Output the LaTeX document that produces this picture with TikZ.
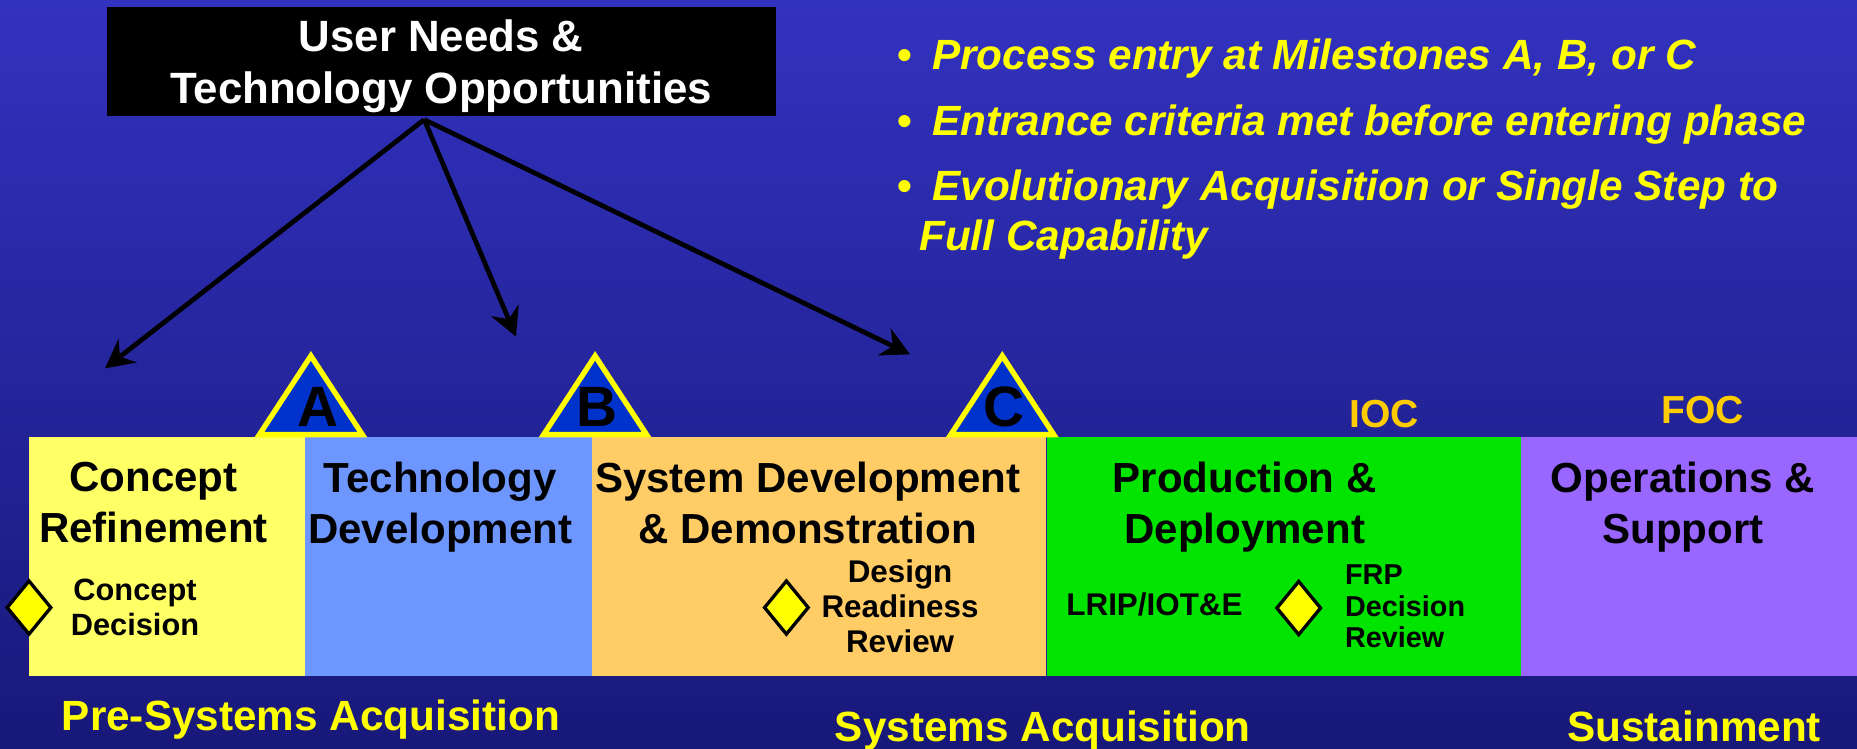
\documentclass[tikz,border=0pt]{standalone}
\usepackage{fontspec}
\setmainfont{Liberation Sans}
\usetikzlibrary{arrows.meta,shapes.geometric}
\definecolor{bgtop}{RGB}{50,50,192}
\definecolor{bgbot}{RGB}{24,24,122}
\definecolor{cYel}{RGB}{255,255,102}
\definecolor{cBlue}{RGB}{110,150,255}
\definecolor{cOra}{RGB}{255,204,102}
\definecolor{cGrn}{RGB}{0,228,0}
\definecolor{cPur}{RGB}{153,102,255}
\definecolor{msfill}{RGB}{0,51,204}
\definecolor{brightyel}{RGB}{255,255,0}
\definecolor{gold}{RGB}{255,204,0}
\definecolor{navyline}{RGB}{36,36,150}
\newcommand\setfs[2]{\fontsize{#1}{#2}\selectfont}
\begin{document}
\begin{tikzpicture}[x=1pt,y=-1pt,
  phase/.style={draw=none, inner sep=0, outer sep=0, anchor=north west, minimum height=202},
  phasetext/.style={anchor=north, align=center, inner sep=0, font=\setfs{35.5}{42.8}\bfseries},
  milestone/.style={fill=msfill, draw=brightyel, line width=4.5, line join=miter},
  msletter/.style={anchor=base, inner sep=0, font=\setfs{48}{48}\bfseries},
  decision/.style={diamond, draw=black, fill=brightyel, line width=2.8, minimum width=38, minimum height=46, inner sep=0},
  feed/.style={line width=4, -{Stealth[length=24pt, width=25pt, inset=8pt]}},
  ioc/.style={anchor=base, inner sep=0, text=gold, font=\setfs{33}{33}\bfseries},
  phasegroup/.style={anchor=base, inner sep=0, text=brightyel, font=\setfs{35.7}{35.7}\bfseries},
  bulltext/.style={anchor=base west, inner sep=0, text=brightyel, font=\setfs{35.7}{42.2}\bfseries\itshape},
  bulletdot/.style={anchor=base west, inner sep=0, text=brightyel, font=\setfs{35.7}{42.2}\bfseries}
]
\useasboundingbox (0,0) rectangle (1568,632);
\shade[top color=bgtop, bottom color=bgbot] (0,0) rectangle (1568,632);

% phase boxes
\node[phase, fill=cYel,  minimum width=233]   (cr) at (24.4,369) {};
\node[phase, fill=cBlue, minimum width=242.6] (td) at (257.4,369) {};
\node[phase, fill=cOra,  minimum width=383.8] (sd) at (500,369) {};
\node[phase, fill=cGrn,  minimum width=400.5] (pd) at (883.8,369) {};
\node[phase, fill=cPur,  minimum width=283.7] (os) at (1284.3,369) {};
\draw[line width=1, draw=navyline] (pd.north west) -- (pd.south west);

% milestone triangles
\draw[milestone] (219,367) -- (262.5,300.5) -- (306,367) -- cycle;
\draw[milestone] (459,367) -- (502.5,300.5) -- (546,367) -- cycle;
\draw[milestone] (802.8,367) -- (846.3,300.5) -- (889.8,367) -- cycle;
\node[msletter] (mA) at (268.5,360) {A};
\node[msletter] (mB) at (504,360) {B};
\node[msletter] (mC) at (847.8,360.5) {C};

% phase labels
\node[phasetext] (crt) at (129.6,390) {Concept\\Refinement};
\node[phasetext] (tdt) at (371.7,390) {Technology\\Development};
\node[phasetext] (sdt) at (682,390) {System Development\\\& Demonstration};
\node[phasetext] (pdt) at (1051,390) {Production \&\\Deployment};
\node[phasetext] (ost) at (1421,390) {Operations \&\\Support};

% decisions
\node[decision] (cd) at (24.5,513) {};
\node[anchor=north, align=center, inner sep=0, font=\setfs{26}{29.6}\bfseries] (cdt) at (114,489) {Concept\\Decision};
\node[decision] (drr) at (664,513) {};
\node[anchor=north, align=center, inner sep=0, font=\setfs{26.5}{29.4}\bfseries] (drrt) at (760,472.7) {Design\\Readiness\\Review};
\node[anchor=base, inner sep=0, font=\setfs{26.5}{26.5}\bfseries] (lrip) at (974.8,519.3) {LRIP/IOT\&E};
\node[decision] (frp) at (1096.6,513.4) {};
\node[anchor=north west, align=left, inner sep=0, font=\setfs{24.3}{26.7}\bfseries] (frpt) at (1135.6,476.6) {FRP\\Decision\\Review};

% IOC / FOC
\node[ioc] (iocl) at (1168.5,360.8) {IOC};
\node[ioc] (focl) at (1437.5,357.5) {FOC};

% top box
\node[fill=black, minimum width=565, minimum height=92, inner sep=0, anchor=north west] (needs) at (90,5.6) {};
\node[anchor=north, align=center, inner sep=0, text=white, font=\setfs{37}{44.2}\bfseries] (needstext) at (372.5,16.6) {User Needs \&\\Technology Opportunities};

% arrows
\coordinate (src) at ([xshift=-14.5pt,yshift=-3pt]needs.south);
\coordinate (tipCR) at (88.7,311);
\coordinate (tipTD) at (435.7,284.3);
\coordinate (tipSD) at (768.4,299.2);
\draw[feed] (src) -- (tipCR);
\draw[feed] (src) -- (tipTD);
\draw[feed] (src) -- (tipSD);

% bullets
\node[bulletdot] (d1) at (758,59.1) {\textbullet};
\node[bulletdot] (d2) at (758,114) {\textbullet};
\node[bulletdot] (d3) at (758,168.9) {\textbullet};
\node[bulltext] (b1) at (787,59.1) {Process entry at Milestones A, B, or C};
\node[bulltext] (b2) at (787,114) {Entrance criteria met before entering phase};
\node[bulltext, anchor=north west, align=left] (b3) at (787,142.9) {Evolutionary Acquisition or Single Step to\\\hspace*{-11pt}Full Capability};

% group labels
\node[phasegroup] (pre) at (262.5,617) {Pre-Systems Acquisition};
\node[phasegroup] (sys) at (880.5,625.7) {Systems Acquisition};
\node[phasegroup] (sus) at (1430.5,625.7) {Sustainment};
\end{tikzpicture}
\end{document}
